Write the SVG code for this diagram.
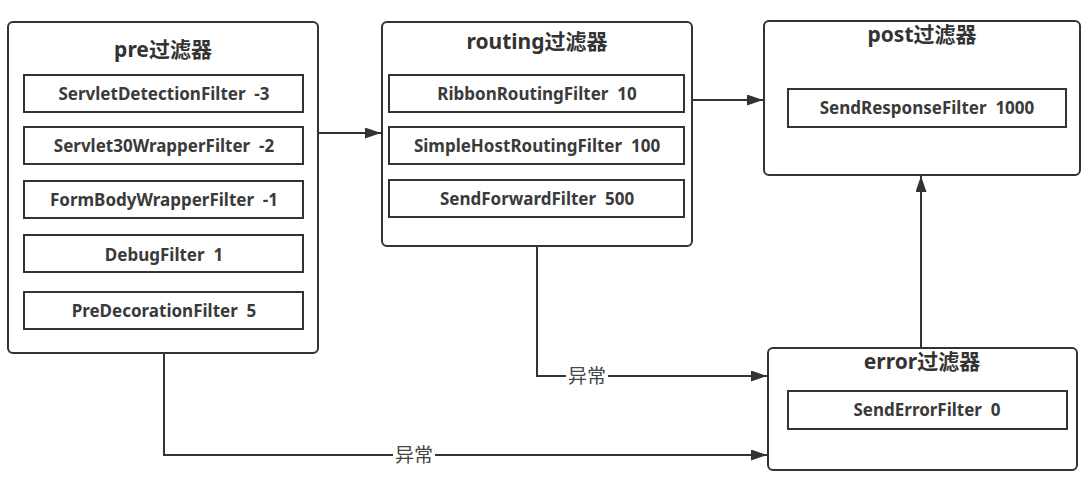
<svg xmlns="http://www.w3.org/2000/svg" width="1089" height="486" viewBox="0 0 1089 486">
<defs>
<marker id="ah" viewBox="0 0 16 11" refX="16" refY="5.5" markerWidth="16" markerHeight="11" markerUnits="userSpaceOnUse" orient="auto">
<path d="M0,0 L16,5.5 L0,11 Z" fill="#333"/>
</marker>
</defs>
<style>
.outer{fill:#fff;stroke:#333;stroke-width:2}
.inner{fill:#fff;stroke:#333;stroke-width:2}
.title{font-family:"Noto Sans","Noto Sans CJK SC",sans-serif;font-weight:bold;font-size:21px;fill:#333;text-anchor:middle}
.item{font-family:"Noto Sans","Noto Sans CJK SC",sans-serif;font-weight:bold;font-size:17px;fill:#3a3a3a;text-anchor:middle;white-space:pre}
.edge{fill:none;stroke:#333;stroke-width:2;marker-end:url(#ah)}
.lbl{font-family:"Noto Sans CJK SC",sans-serif;font-size:19px;fill:#444;text-anchor:middle}
</style>
<rect width="1089" height="486" fill="#fff"/>
<g id="connectors">
<path class="edge" d="M318,133 L381,133"/>
<path class="edge" d="M692,100 L763,100"/>
<path class="edge" d="M921,348 L921,176"/>
<path class="edge" d="M537,246 L537,376 L767,376"/>
<path class="edge" d="M164,353 L164,455 L767,455"/>
<rect x="566" y="365" width="42" height="22" fill="#fff"/>
<text class="lbl" x="587" y="383">异常</text>
<rect x="393" y="444" width="42" height="22" fill="#fff"/>
<text class="lbl" x="414" y="462">异常</text>
</g>
<g id="pre">
<rect class="outer" x="8" y="22" width="310" height="331" rx="5"/>
<text class="title" x="163" y="57">pre过滤器</text>
<rect class="inner" x="24" y="75" width="279" height="37"/>
<text class="item" x="164" y="100" xml:space="preserve">ServletDetectionFilter  -3</text>
<rect class="inner" x="24" y="127" width="279" height="37"/>
<text class="item" x="164" y="152" xml:space="preserve">Servlet30WrapperFilter  -2</text>
<rect class="inner" x="24" y="181" width="279" height="37"/>
<text class="item" x="164" y="206" xml:space="preserve">FormBodyWrapperFilter  -1</text>
<rect class="inner" x="24" y="235" width="279" height="37"/>
<text class="item" x="164" y="261" xml:space="preserve">DebugFilter  1</text>
<rect class="inner" x="24" y="292" width="279" height="37"/>
<text class="item" x="164" y="317" xml:space="preserve">PreDecorationFilter  5</text>
</g>
<g id="routing">
<rect class="outer" x="382" y="22" width="310" height="224" rx="5"/>
<text class="title" x="537" y="49">routing过滤器</text>
<rect class="inner" x="389" y="75" width="295" height="37"/>
<text class="item" x="537" y="100" xml:space="preserve">RibbonRoutingFilter  10</text>
<rect class="inner" x="389" y="127" width="295" height="37"/>
<text class="item" x="537" y="152" xml:space="preserve">SimpleHostRoutingFilter  100</text>
<rect class="inner" x="389" y="180" width="295" height="37"/>
<text class="item" x="537" y="205" xml:space="preserve">SendForwardFilter  500</text>
</g>
<g id="post">
<rect class="outer" x="764" y="21" width="316" height="154" rx="5"/>
<text class="title" x="922" y="42">post过滤器</text>
<rect class="inner" x="788" y="89" width="278" height="38"/>
<text class="item" x="927" y="114" xml:space="preserve">SendResponseFilter  1000</text>
</g>
<g id="error">
<rect class="outer" x="768" y="348" width="309" height="122" rx="5"/>
<text class="title" x="922" y="369">error过滤器</text>
<rect class="inner" x="788" y="391" width="279" height="38"/>
<text class="item" x="927" y="416" xml:space="preserve">SendErrorFilter  0</text>
</g>
</svg>
